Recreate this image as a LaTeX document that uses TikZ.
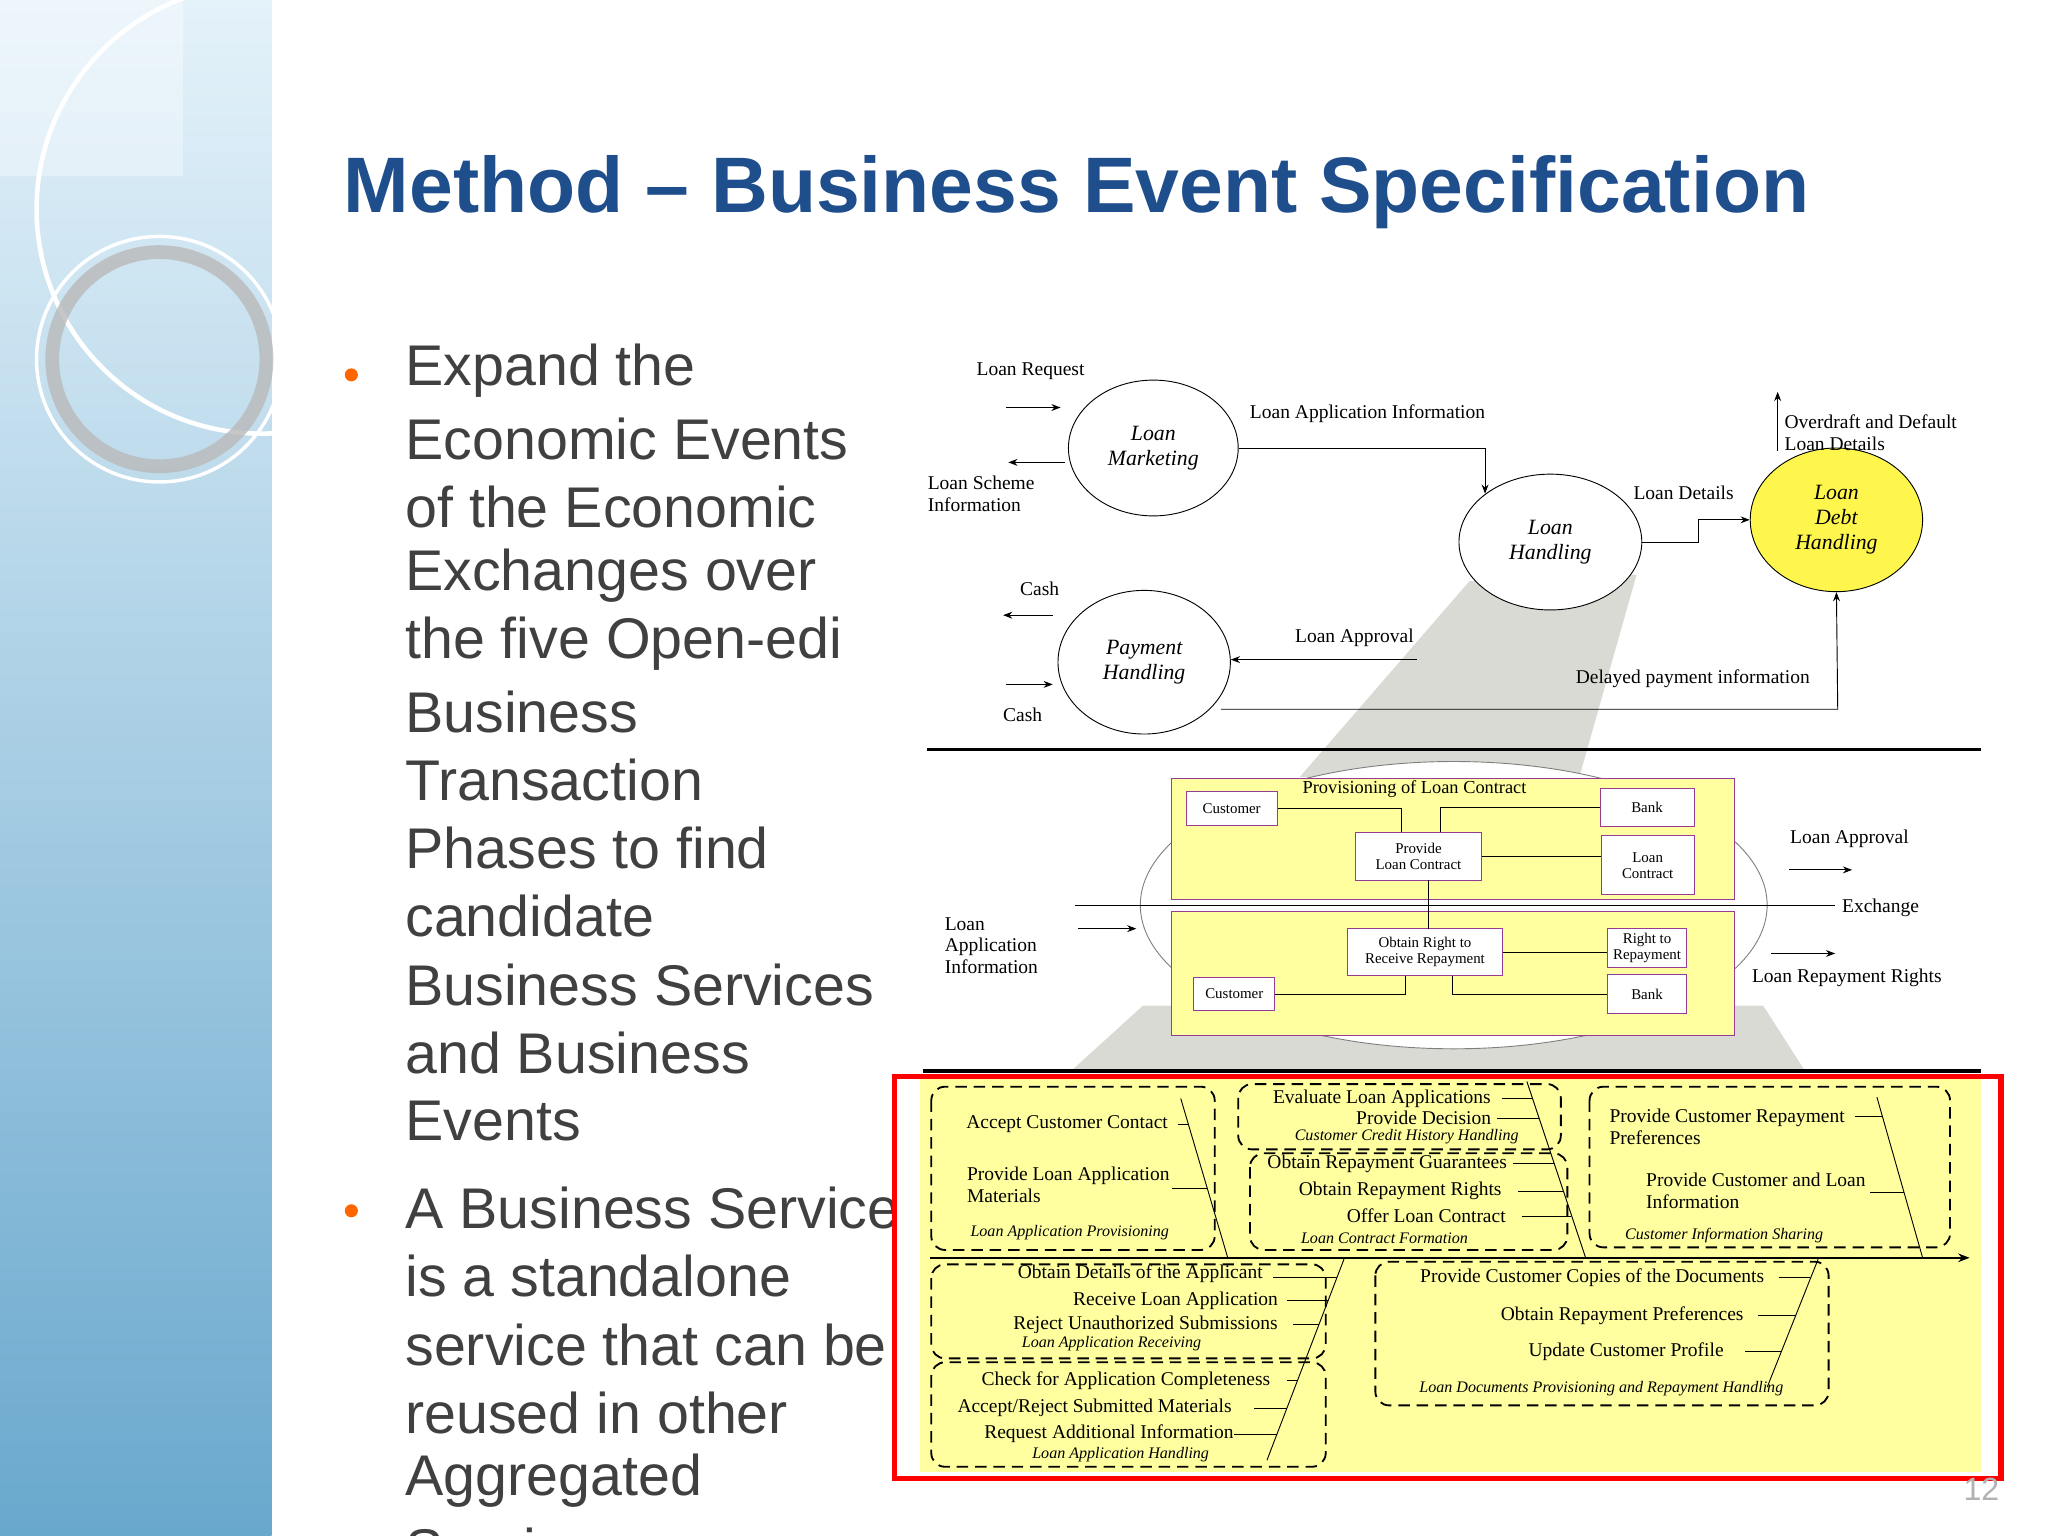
\documentclass[tikz,border=0pt]{standalone}
\usepackage{fontspec}
\setmainfont{Liberation Serif}
\newfontfamily\arial{Liberation Sans}
\usetikzlibrary{shapes.geometric,arrows.meta,calc}
\definecolor{ttl}{RGB}{31,78,140}
\definecolor{bodyc}{RGB}{64,64,64}
\definecolor{yel}{RGB}{255,255,160}
\definecolor{purp}{RGB}{150,60,150}
\definecolor{cone}{RGB}{218,218,212}
\definecolor{stripT}{RGB}{228,242,250}
\definecolor{stripB}{RGB}{105,168,205}
\begin{document}
\begin{tikzpicture}[x=0.02cm,y=-0.02cm,
  lbl/.style={font=\fontsize{8.5}{9.5}\selectfont,align=left,inner sep=0},
  ital/.style={font=\fontsize{7}{8}\selectfont\itshape,inner sep=0},
  ell/.style={ellipse,draw,thin,font=\fontsize{9.5}{11}\selectfont\itshape,align=center},
  box/.style={draw=purp,fill=white,font=\fontsize{6.5}{7}\selectfont,align=center,inner sep=0},
  ybox/.style={draw=purp,fill=yel},
  dbox/.style={draw,thick,dash pattern=on 5pt off 3pt,rounded corners=6pt},
  arr/.style={-{Stealth[length=4pt,width=3pt]},thin},
  ln/.style={thin},
  bul/.style={font=\arial\fontsize{25}{30}\selectfont,text=bodyc,anchor=west,inner sep=0}]
\useasboundingbox (0,0) rectangle (1568,1176);
\clip (0,0) rectangle (1568,1176);
% left strip
\shade[top color=stripT,bottom color=stripB] (0,0) rectangle (208,1176);
\fill[white,opacity=0.35] (0,0) rectangle (140,135);
\draw[white,line width=2pt] (200,160) circle (172);
\draw[gray!55,line width=6pt,opacity=0.8] (122,275) circle (82);
\draw[white,line width=1.5pt] (122,275) circle (94);
% title
\node[font=\arial\bfseries\fontsize{34.3}{37}\selectfont,text=ttl,anchor=west,inner sep=0] (title) at (263,147) {Method \textendash{} Business Event Specification};
% bullets
\foreach \y in {287,927} \fill[orange!80!red] (269,\y) circle (5);
\foreach \t [count=\i from 0] in {Expand the,Economic Events,of the Economic,Exchanges over,the five Open-edi,Business,Transaction,Phases to find,candidate,Business Services,and Business,Events}
  \node[bul] at (310,284+52.2*\i) {\t};
\foreach \t [count=\i from 0] in {A Business Service,is a standalone,service that can be,reused in other,Aggregated,Services}
  \node[bul] at (310,925+52.2*\i) {\t};
% cones
\fill[cone] (1125,445) -- (1253,440) -- (1210,592) -- (995,595) -- cycle;
\fill[cone] (875,770) -- (1350,770) -- (1382,820) -- (820,820) -- cycle;
% upper ellipses
\node[ell,minimum width=2.6cm,minimum height=2.08cm] (lm) at (883,343) {Loan\\Marketing};
\node[ell,fill=white,minimum width=2.8cm,minimum height=2.08cm] (lh) at (1187,415) {Loan\\Handling};
\node[ell,fill=yellow!70!white,minimum width=2.64cm,minimum height=2.2cm] (ld) at (1406,398) {Loan\\Debt\\Handling};
\node[ell,minimum width=2.64cm,minimum height=2.2cm] (ph) at (876,507) {Payment\\Handling};
% upper labels & arrows
\node[lbl] (lr) at (789,284) {Loan Request};
\coordinate (lra) at (770,312); \coordinate (lrb) at (812,312);
\draw[arr] (lra) -- (lrb);
\node[lbl,anchor=west] (lsi) at (710,378) {Loan Scheme\\Information};
\coordinate (lsa) at (815,354); \coordinate (lsb) at (772,354);
\draw[arr] (lsa) -- (lsb);
\node[lbl] (lai) at (1047,317) {Loan Application Information};
\draw[arr] (lm.east) -| (1137,378);
\node[lbl] (ldl) at (1289,377) {Loan Details};
\draw[arr] (lh.east) -- (1300,415) |- (ld.west);
\coordinate (ovb) at (1361,345); \coordinate (ovt) at (1361,300);
\draw[arr] (ovb) -- (ovt);
\node[lbl,anchor=west] (ov) at (1366,331) {Overdraft and Default\\Loan Details};
\node[lbl] (la) at (1037,488) {Loan Approval};
\coordinate (las) at (1085,505);
\draw[arr] (las) -- (ph.east |- las);
\node[lbl] (dpi) at (1296,520) {Delayed payment information};
\draw[arr] (935,543) -- (1407,543) -- (ld.south);
\node[lbl] (c1) at (796,451) {Cash};
\coordinate (c1a) at (806,471); \coordinate (c1b) at (768,471);
\draw[arr] (c1a) -- (c1b);
\node[lbl] (c2) at (783,547) {Cash};
\coordinate (c2a) at (770,524); \coordinate (c2b) at (806,524);
\draw[arr] (c2a) -- (c2b);
\draw[line width=1.5pt] (710,574) -- (1517,574);
% middle exchange
\node[ellipse,draw=gray,fill=white,minimum width=9.6cm,minimum height=4.4cm] (bigE) at (1113,693) {};
\node[ybox,minimum width=8.62cm,minimum height=1.86cm] (top) at (1112.5,642.5) {};
\node[ybox,minimum width=8.62cm,minimum height=1.9cm] (bot) at (1112.5,745.5) {};
\node[font=\fontsize{8}{9}\selectfont,inner sep=0] (plc) at (1083,604) {Provisioning of Loan Contract};
\node[box,minimum width=1.4cm,minimum height=0.52cm] (cu1) at (943,619) {Customer};
\node[box,minimum width=1.44cm,minimum height=0.58cm] (bk1) at (1261,618.5) {Bank};
\node[box,minimum width=1.92cm,minimum height=0.74cm] (plcn) at (1086,655.5) {Provide\\Loan Contract};
\node[box,minimum width=1.42cm,minimum height=0.9cm] (lc) at (1261.5,662.5) {Loan\\Contract};
\node[box,minimum width=2.36cm,minimum height=0.72cm] (or) at (1091,729) {Obtain Right to\\Receive Repayment};
\node[box,minimum width=1.2cm,minimum height=0.6cm] (rr) at (1261,726) {Right to\\Repayment};
\node[box,minimum width=1.24cm,minimum height=0.52cm] (cu2) at (945,761) {Customer};
\node[box,minimum width=1.2cm,minimum height=0.6cm] (bk2) at (1261,761) {Bank};
\draw[ln] (cu1.east) -| (1073,637);
\draw[ln] (bk1.west) -| (1103,637);
\draw[ln] (plcn.east) -- (lc.west |- plcn.east);
\draw[ln] (1094,674) -- (1094,711);
\draw[ln] (or.east) -- (rr.west |- or.east);
\draw[ln] (cu2.east) -| (1076,747);
\draw[ln] (1112,747) |- (bk2.west);
\coordinate (exa) at (823,693); \coordinate (exb) at (1405,693);
\draw[ln] (exa) -- (exb);
\node[lbl,anchor=west] (ex) at (1410,695) {Exchange};
\node[lbl] (la2) at (1416,642) {Loan Approval};
\coordinate (la2a) at (1370,666); \coordinate (la2b) at (1418,666);
\draw[arr] (la2a) -- (la2b);
\node[lbl] (lrr) at (1414,749) {Loan Repayment Rights};
\coordinate (lrra) at (1356,730); \coordinate (lrrb) at (1405,730);
\draw[arr] (lrra) -- (lrrb);
\node[lbl,anchor=west] (lai2) at (723,724) {Loan\\Application\\Information};
\coordinate (lai2a) at (825,711); \coordinate (lai2b) at (870,711);
\draw[arr] (lai2a) -- (lai2b);
\draw[line width=1.5pt] (707,820) -- (1517,820);
% lower fishbone
\fill[yel] (704,826) rectangle (1517,1127);
\draw[red,line width=2.2pt] (685,824) rectangle (1532,1132);
\coordinate (spA) at (712,963); \coordinate (spB) at (1508,963);
\draw[-{Stealth[length=5pt]},thick] (spA) -- (spB);
\draw[dbox] (713,832) rectangle (930,957);
\draw[dbox] (948,830) rectangle (1195,880);
\draw[dbox] (957,883) rectangle (1200,957);
\draw[dbox] (1217,832) rectangle (1493,955);
\draw[dbox] (713,968) rectangle (1015,1040);
\draw[dbox] (713,1043) rectangle (1015,1123);
\draw[dbox] (1053,966) rectangle (1400,1076);
% texts
\node[lbl] (t1) at (817,861) {Accept Customer Contact};
\node[lbl,anchor=west] (t2) at (740,907) {Provide Loan Application\\Materials};
\node[ital] (t3) at (819,944) {Loan Application Provisioning};
\node[lbl] (t4) at (1058,841) {Evaluate Loan Applications};
\node[lbl] (t5) at (1090,856) {Provide Decision};
\node[ital] (t6) at (1077,870) {Customer Credit History Handling};
\node[lbl] (t7) at (1062,891) {Obtain Repayment Guarantees};
\node[lbl] (t8) at (1072,912) {Obtain Repayment Rights};
\node[lbl] (t9) at (1092,931) {Offer Loan Contract};
\node[ital] (t10) at (1060,948) {Loan Contract Formation};
\node[lbl,anchor=west] (t11) at (1232,863) {Provide Customer Repayment\\Preferences};
\node[lbl,anchor=west] (t12) at (1260,912) {Provide Customer and Loan\\Information};
\node[ital] (t13) at (1320,946) {Customer Information Sharing};
\node[lbl] (t14) at (873,975) {Obtain Details of the Applicant};
\node[lbl] (t15) at (900,996) {Receive Loan Application};
\node[lbl] (t16) at (877,1014) {Reject Unauthorized Submissions};
\node[ital] (t17) at (851,1029) {Loan Application Receiving};
\node[lbl] (t18) at (862,1057) {Check for Application Completeness};
\node[lbl] (t19) at (838,1078) {Accept/Reject Submitted Materials};
\node[lbl] (t20) at (849,1098) {Request Additional Information};
\node[ital] (t21) at (858,1114) {Loan Application Handling};
\node[lbl] (t22) at (1219,978) {Provide Customer Copies of the Documents};
\node[lbl] (t23) at (1242,1007) {Obtain Repayment Preferences};
\node[lbl] (t24) at (1245,1035) {Update Customer Profile};
\node[ital] (t25) at (1226,1063) {Loan Documents Provisioning and Repayment Handling};
% diagonals and ticks
\draw[ln] (904,841) -- (940,963);
\draw[ln] (902,861) -- (910,861); \draw[ln] (897,910) -- (924,910);
\draw[ln] (1169,828) -- (1214,963);
\draw[ln] (1150,841) -- (1173,841); \draw[ln] (1146,856) -- (1178,856);
\draw[ln] (1158,891) -- (1190,891); \draw[ln] (1162,912) -- (1197,912); \draw[ln] (1165,931) -- (1203,931);
\draw[ln] (1437,840) -- (1472,963);
\draw[ln] (1420,855) -- (1441,855); \draw[ln] (1432,913) -- (1458,913);
\draw[ln] (1029,964) -- (970,1118);
\draw[ln] (975,978) -- (1024,978); \draw[ln] (985,996) -- (1017,996); \draw[ln] (990,1014) -- (1010,1014);
\draw[ln] (985,1057) -- (993,1057); \draw[ln] (960,1078) -- (985,1078); \draw[ln] (945,1098) -- (978,1098);
\draw[ln] (1392,964) -- (1353,1062);
\draw[ln] (1362,978) -- (1386,978); \draw[ln] (1346,1007) -- (1375,1007); \draw[ln] (1336,1035) -- (1364,1035);
\node[font=\arial\fontsize{14}{16}\selectfont,text=gray!60] (pg) at (1517,1140) {12};
\end{tikzpicture}
\end{document}
